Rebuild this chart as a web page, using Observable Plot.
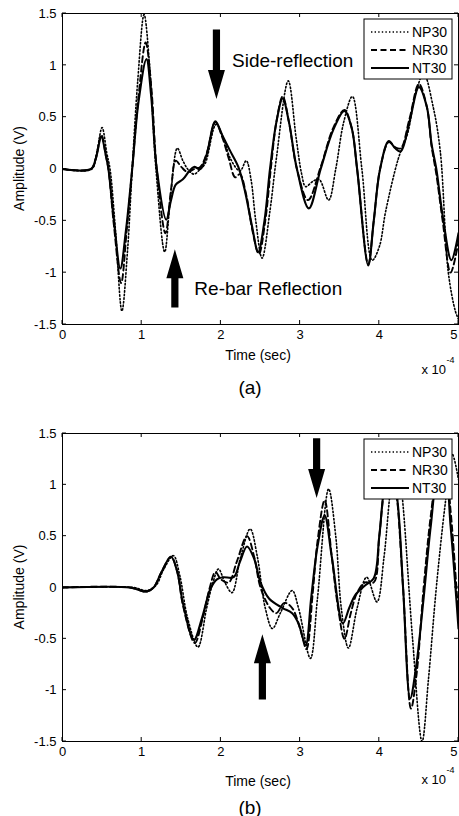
<!DOCTYPE html>
<html><head><meta charset="utf-8">
<script src="https://cdn.jsdelivr.net/npm/d3@7"></script>
<script src="https://cdn.jsdelivr.net/npm/@observablehq/plot@0.6"></script>
<style>
html,body{margin:0;padding:0;background:#fff;}
#root{position:relative;width:459px;height:816px;overflow:hidden;background:#fff;font-family:"Liberation Sans",Arial,Helvetica,sans-serif;}
#root svg{position:absolute;left:0;display:block;}
</style></head><body><div id="root"></div>
<script>
// ---- data (time in units of 1e-4 s, amplitude in V) ----
const seriesNames = ["NP30", "NR30", "NT30"];
const xTicks = [0, 1, 2, 3, 4, 5];
const xTickLabels = ["0", "1", "2", "3", "4", "5"];
const yTicks = [-1.5, -1, -0.5, 0, 0.5, 1, 1.5];
const yTickLabels = ["-1.5", "-1", "-0.5", "0", "0.5", "1", "1.5"];
const xLabel = "Time (sec)";
const yLabel = "Amplitude (V)";
const xExponent = ["x 10", "-4"];

// Panel (a)
const a_NP30 = [[0,0],[0.37,0],[0.43,0.15],[0.5,0.4],[0.56,0.15],[0.6,0],[0.67,-0.6],[0.75,-1.37],[0.82,-0.8],[0.88,0],[0.95,0.85],[1.03,1.49],[1.1,1.0],[1.18,0],[1.29,-0.8],[1.36,-0.3],[1.45,0.2],[1.52,0.08],[1.58,0],[1.66,-0.05],[1.74,0],[1.8,0.05],[1.94,0.43],[2.04,0.28],[2.12,0.1],[2.24,-0.02],[2.32,0.08],[2.38,-0.1],[2.44,-0.5],[2.52,-0.86],[2.62,-0.4],[2.7,0.1],[2.85,0.85],[2.95,0.3],[3.02,-0.05],[3.07,-0.17],[3.16,-0.12],[3.24,-0.1],[3.36,-0.3],[3.45,0],[3.55,0.45],[3.66,0.7],[3.78,0],[3.91,-0.88],[4.0,-0.75],[4.08,-0.41],[4.24,0.1],[4.36,0.35],[4.45,0.7],[4.56,0.92],[4.68,0.6],[4.77,0.17],[4.87,-0.99],[4.96,-1.37],[5.0,-1.45]];
const a_NR30 = [[0,0],[0.36,0],[0.42,0.1],[0.49,0.33],[0.55,0.12],[0.58,0],[0.65,-0.55],[0.74,-1.1],[0.81,-0.6],[0.88,0],[0.96,0.7],[1.05,1.22],[1.12,0.8],[1.19,0],[1.3,-0.62],[1.37,-0.2],[1.43,0.08],[1.5,0.02],[1.58,-0.03],[1.66,0],[1.74,0.02],[1.82,0.15],[1.93,0.45],[2.02,0.3],[2.1,0.1],[2.18,-0.08],[2.24,-0.05],[2.32,-0.25],[2.4,-0.6],[2.48,-0.82],[2.56,-0.5],[2.63,0],[2.7,0.45],[2.78,0.7],[2.86,0.45],[2.96,0],[3.1,-0.3],[3.26,0.02],[3.42,0.4],[3.56,0.57],[3.65,0.4],[3.72,0],[3.86,-0.92],[3.93,-0.5],[4.01,0],[4.12,0.26],[4.2,0.21],[4.27,0.2],[4.38,0.48],[4.5,0.82],[4.6,0.6],[4.66,0.22],[4.72,-0.05],[4.8,-0.5],[4.9,-1.0],[5.0,-0.7]];
const a_NT30 = [[0,0],[0.36,0],[0.42,0.1],[0.49,0.31],[0.55,0.12],[0.58,0],[0.65,-0.5],[0.73,-0.96],[0.8,-0.6],[0.88,0],[0.96,0.65],[1.06,1.06],[1.12,0.7],[1.19,0],[1.31,-0.49],[1.37,-0.3],[1.43,-0.15],[1.52,-0.1],[1.6,-0.02],[1.66,0.02],[1.74,0],[1.82,0.14],[1.93,0.46],[2.02,0.32],[2.12,0.17],[2.22,0.02],[2.3,-0.2],[2.39,-0.54],[2.47,-0.8],[2.55,-0.5],[2.62,0],[2.7,0.45],[2.78,0.68],[2.86,0.45],[2.96,0],[3.11,-0.38],[3.26,0],[3.42,0.38],[3.56,0.56],[3.65,0.4],[3.72,0],[3.86,-0.93],[3.93,-0.5],[4.01,0],[4.12,0.27],[4.2,0.2],[4.27,0.17],[4.38,0.45],[4.5,0.79],[4.6,0.6],[4.66,0.24],[4.72,0],[4.8,-0.45],[4.91,-0.88],[5.0,-0.62]];

// Panel (b)
const b_NP30 = [[0,0],[0.9,0],[1.06,-0.03],[1.18,0.02],[1.28,0.18],[1.4,0.31],[1.48,0.12],[1.58,-0.3],[1.71,-0.58],[1.82,-0.2],[1.9,0.05],[1.97,0.18],[2.05,0.05],[2.14,-0.05],[2.25,0.3],[2.37,0.57],[2.46,0.3],[2.56,-0.2],[2.65,-0.4],[2.75,-0.25],[2.9,-0.03],[2.98,-0.2],[3.13,-0.69],[3.22,-0.1],[3.36,0.96],[3.45,0.5],[3.52,-0.2],[3.61,-0.59],[3.72,-0.2],[3.84,0.1],[3.97,-0.14],[4.06,0.3],[4.15,1.0],[4.23,1.3],[4.3,0.8],[4.42,-0.5],[4.54,-1.5],[4.62,-0.9],[4.72,0],[4.83,0.8],[4.92,1.3],[5.0,1.05]];
const b_NR30 = [[0,0],[0.85,0],[1.06,-0.04],[1.15,0],[1.25,0.15],[1.37,0.3],[1.45,0.15],[1.52,-0.17],[1.67,-0.54],[1.77,-0.3],[1.86,0],[1.93,0.15],[2.0,0.08],[2.1,0.05],[2.2,0.25],[2.33,0.5],[2.42,0.3],[2.5,0],[2.62,-0.2],[2.7,-0.25],[2.8,-0.15],[2.9,-0.2],[3.0,-0.4],[3.08,-0.6],[3.16,-0.05],[3.22,0.45],[3.31,0.85],[3.4,0.3],[3.48,-0.2],[3.56,-0.5],[3.64,-0.25],[3.72,-0.05],[3.82,0.05],[3.93,0.05],[4.0,0.5],[4.07,1.0],[4.15,1.25],[4.22,0.9],[4.3,0],[4.4,-1.18],[4.47,-0.85],[4.56,0],[4.65,0.7],[4.75,1.2],[4.82,1.28],[4.9,0.75],[5.0,-0.3]];
const b_NT30 = [[0,0],[0.85,0],[0.95,-0.02],[1.06,-0.04],[1.15,0],[1.25,0.15],[1.37,0.3],[1.45,0.15],[1.52,-0.15],[1.66,-0.51],[1.76,-0.3],[1.87,-0.01],[1.95,0.08],[2.03,0.1],[2.16,0.1],[2.24,0.25],[2.33,0.4],[2.42,0.28],[2.5,0.05],[2.61,-0.11],[2.78,-0.2],[2.9,-0.25],[2.98,-0.35],[3.07,-0.56],[3.14,-0.1],[3.22,0.4],[3.31,0.7],[3.4,0.3],[3.54,-0.35],[3.62,-0.2],[3.7,-0.07],[3.82,0.02],[3.93,0.09],[4.0,0.5],[4.07,1.0],[4.14,1.15],[4.22,0.9],[4.3,0],[4.39,-1.08],[4.46,-0.8],[4.56,-0.1],[4.65,0.6],[4.75,1.15],[4.82,1.2],[4.9,0.6],[5.0,-0.4]];

// annotations (in data units)
const notesA = [{text: "Side-reflection", x: 2.14, y: 1.04}, {text: "Re-bar Reflection", x: 1.665, y: -1.153}];
const arrowsA = [{x: 1.95, from: 1.34, to: 0.67}, {x: 1.425, from: -1.34, to: -0.78}];
const notesB = [];
const arrowsB = [{x: 3.215, from: 1.45, to: 0.866}, {x: 2.53, from: -1.095, to: -0.46}];

// ---- drawing ----
const dashes = {NP30: "1.4,2.2", NR30: "6,3.5", NT30: null};
const widths = {NP30: 1.6, NR30: 1.9, NT30: 2.1};
const ns = "http://www.w3.org/2000/svg";

function el(tag, attrs, text) {
  const e = document.createElementNS(ns, tag);
  for (const k in attrs) if (attrs[k] != null) e.setAttribute(k, attrs[k]);
  if (text != null) e.textContent = text;
  return e;
}

function panel(cfg) {
  const {series, notes, arrows, tag, top, height, mt, mb, offT, offX, offTag} = cfg;
  const overlay = (index, scales, values, dim) => {
    const g = el("g", {"text-anchor": "start"});
    const sx = scales.x, sy = scales.y;
    const L = dim.marginLeft, R = dim.width - dim.marginRight;
    const T = dim.marginTop, B = dim.height - dim.marginBottom;
    const tk = 4;
    // inward ticks on all four sides
    for (const t of xTicks) {
      const X = sx(t);
      g.appendChild(el("line", {x1: X, x2: X, y1: B, y2: B - tk, stroke: "black", "stroke-width": 1}));
      g.appendChild(el("line", {x1: X, x2: X, y1: T, y2: T + tk, stroke: "black", "stroke-width": 1}));
    }
    for (const t of yTicks) {
      const Y = sy(t);
      g.appendChild(el("line", {x1: L, x2: L + tk, y1: Y, y2: Y, stroke: "black", "stroke-width": 1}));
      g.appendChild(el("line", {x1: R, x2: R - tk, y1: Y, y2: Y, stroke: "black", "stroke-width": 1}));
    }
    // block arrows
    for (const a of arrows) {
      const X = sx(a.x), yT = sy(a.from), yH = sy(a.to);
      const dir = Math.sign(yH - yT), hl = 29, sh = 3.6, hh = 8.5;
      const base = yH - dir * hl;
      const d = `M${X - sh},${yT}L${X + sh},${yT}L${X + sh},${base}L${X + hh},${base}L${X},${yH}L${X - hh},${base}L${X - sh},${base}Z`;
      g.appendChild(el("path", {d, fill: "black", stroke: "none"}));
    }
    // legend box
    const bx = R - 94, by = T + 6, bw = 88, bh = 60;
    g.appendChild(el("rect", {x: bx, y: by, width: bw, height: bh, fill: "white", stroke: "black", "stroke-width": 1}));
    seriesNames.forEach((s, i) => {
      const yy = by + 13 + i * 18;
      g.appendChild(el("line", {x1: bx + 7, x2: bx + 45, y1: yy, y2: yy, stroke: "black", "stroke-width": widths[s], "stroke-dasharray": dashes[s]}));
      g.appendChild(el("text", {x: bx + 48, y: yy, "text-anchor": "start", "font-size": 14, "dominant-baseline": "central", fill: "black"}, s));
    });
    // axis titles and panel tag
    g.appendChild(el("text", {transform: `translate(19,${(T + B) / 2}) rotate(-90)`, "text-anchor": "middle", "dominant-baseline": "central", "font-size": 14, fill: "black"}, yLabel));
    g.appendChild(el("text", {x: 258, y: B + offT, "text-anchor": "middle", "dominant-baseline": "central", "font-size": 14, fill: "black"}, xLabel));
    g.appendChild(el("text", {x: 446, y: B + offX, "text-anchor": "end", "dominant-baseline": "central", "font-size": 13, fill: "black"}, xExponent[0]));
    g.appendChild(el("text", {x: 446.5, y: B + offX - 9, "text-anchor": "start", "dominant-baseline": "central", "font-size": 9, fill: "black"}, xExponent[1]));
    g.appendChild(el("text", {x: 250, y: B + offTag, "text-anchor": "middle", "dominant-baseline": "central", "font-size": 19, fill: "black"}, tag));
    return g;
  };

  const marks = [];
  for (const s of seriesNames) {
    marks.push(Plot.line(series[s], {
      x: d => d[0], y: d => d[1], stroke: "black",
      strokeWidth: widths[s], strokeDasharray: dashes[s],
      curve: "catmull-rom", clip: true
    }));
  }
  marks.push(Plot.frame({stroke: "black", strokeWidth: 1}));
  const lastX = xTicks[xTicks.length - 1];
  marks.push(Plot.axisX({ticks: xTicks.slice(0, -1), tickSize: 0, tickPadding: 5, label: null,
    tickFormat: d => xTickLabels[xTicks.indexOf(d)]}));
  marks.push(Plot.axisX({ticks: [lastX], tickSize: 0, tickPadding: 5, label: null, textAnchor: "end", dx: -1,
    tickFormat: d => xTickLabels[xTicks.indexOf(d)]}));
  marks.push(Plot.axisY({ticks: yTicks, tickSize: 0, tickPadding: 6, label: null,
    tickFormat: d => yTickLabels[yTicks.indexOf(d)]}));
  if (notes.length) marks.push(Plot.text(notes, {x: "x", y: "y", text: "text", textAnchor: "start", fontSize: 19, fill: "black"}));
  marks.push(overlay);

  const svg = Plot.plot({
    width: 459, height,
    marginLeft: 62, marginRight: 1, marginTop: mt, marginBottom: mb,
    x: {domain: [0, 5]},
    y: {domain: [-1.5, 1.5]},
    style: {fontFamily: '"Liberation Sans", Arial, Helvetica, sans-serif', fontSize: "13px", color: "black", background: "white"},
    marks
  });
  svg.style.top = top + "px";
  return svg;
}

const root = document.getElementById("root");
root.appendChild(panel({series: {NP30: a_NP30, NR30: a_NR30, NT30: a_NT30}, notes: notesA, arrows: arrowsA, tag: "(a)",
  top: 0, height: 400, mt: 13, mb: 76, offT: 31, offX: 45, offTag: 63}));
root.appendChild(panel({series: {NP30: b_NP30, NR30: b_NR30, NT30: b_NT30}, notes: notesB, arrows: arrowsB, tag: "(b)",
  top: 400, height: 416, mt: 33, mb: 75, offT: 40, offX: 38, offTag: 66}));
</script>
</body></html>
